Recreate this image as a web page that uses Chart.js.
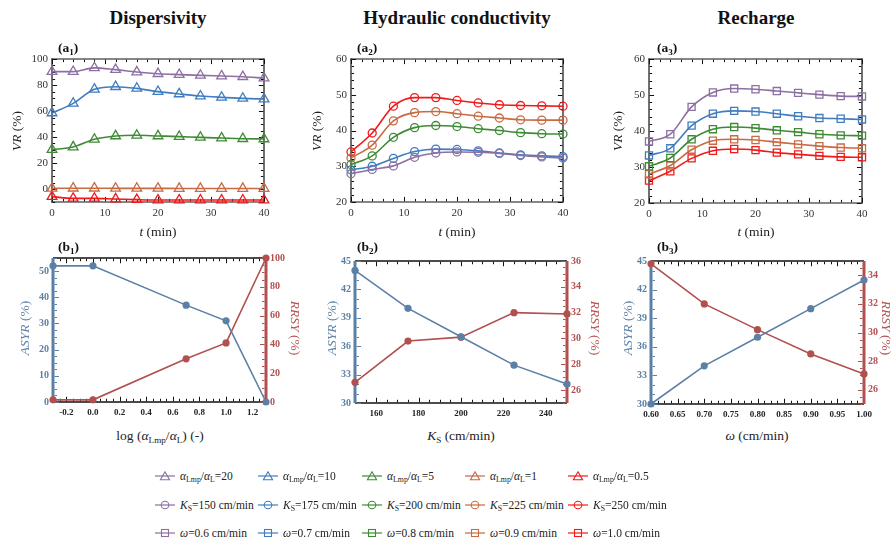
<!DOCTYPE html>
<html><head><meta charset="utf-8">
<script src="https://cdn.jsdelivr.net/npm/chart.js@4/dist/chart.umd.min.js"></script>
<style>
html,body{margin:0;padding:0;background:#fff;}
body{width:892px;height:540px;position:relative;overflow:hidden;font-family:"Liberation Serif","Times New Roman",serif;color:#222;}
canvas{position:absolute;}
.tx{position:absolute;width:300px;height:20px;line-height:20px;text-align:center;white-space:nowrap;z-index:5;}
.tx sub{font-size:0.68em;vertical-align:-0.3em;line-height:0;}
.leg{position:absolute;height:16px;line-height:16px;white-space:nowrap;font-size:11.5px;z-index:5;}
.leg svg{position:absolute;left:0;top:2px;}
.leg span{position:absolute;top:0;}
.leg sub{font-size:0.68em;vertical-align:-0.3em;line-height:0;}
</style></head>
<body>
<canvas id="a1"></canvas><canvas id="a2"></canvas><canvas id="a3"></canvas>
<canvas id="b1"></canvas><canvas id="b2"></canvas><canvas id="b3"></canvas>
<div id="texts"></div>
<script>
// ---------------- DATA ----------------
const timeMin = [0,4,8,12,16,20,24,28,32,36,40];
const dispLabels = ['20','10','5','1','0.5'];
const ksLabels = ['150','175','200','225','250'];
const omegaLabels = ['0.6','0.7','0.8','0.9','1.0'];

// (a1) Dispersivity VR (%)
const vrDisp20 = [90.3,90.3,93.2,91.8,90.0,88.7,88.0,87.4,86.9,86.4,85.3];
const vrDisp10 = [58.5,65.9,76.7,78.7,77.4,74.9,73.1,71.5,70.5,69.7,69.2];
const vrDisp5  = [30.3,32.3,38.2,40.8,41.3,40.8,40.3,39.7,39.2,38.7,38.5];
const vrDisp1  = [0.5,0.6,0.6,0.5,0.5,0.5,0.4,0.4,0.4,0.4,0.4];
const vrDisp05 = [-5.9,-7.2,-7.2,-7.7,-8.2,-8.5,-8.5,-8.5,-8.5,-8.5,-8.5];

// (a2) Hydraulic conductivity VR (%)
const vrKs150 = [27.9,29.1,30.1,32.5,33.7,34.0,33.9,33.6,33.0,32.6,32.3];
const vrKs175 = [29.0,30.0,32.2,34.1,34.8,34.7,34.3,33.7,33.2,32.9,32.7];
const vrKs200 = [30.5,32.9,38.1,40.8,41.4,41.1,40.5,40.0,39.4,39.1,39.0];
const vrKs225 = [32.3,35.9,42.7,45.0,45.3,44.7,44.0,43.5,43.0,42.9,42.9];
const vrKs250 = [34.0,39.3,46.8,49.2,49.2,48.4,47.7,47.2,47.0,46.9,46.8];

// (a3) Recharge VR (%)
const vrOm06 = [37.1,39.1,46.7,50.7,51.8,51.6,51.1,50.6,50.1,49.7,49.6];
const vrOm07 = [33.2,35.2,41.5,44.8,45.6,45.4,44.8,44.1,43.6,43.4,43.2];
const vrOm08 = [30.2,32.5,37.7,40.5,41.1,40.8,40.2,39.7,39.1,38.8,38.7];
const vrOm09 = [28.0,30.4,34.8,37.3,37.7,37.5,36.9,36.3,35.8,35.4,35.2];
const vrOm10 = [26.2,28.8,32.4,34.5,35.0,34.7,34.0,33.5,33.1,32.8,32.7];

// (b1)
const logRatio = [-0.3,0,0.7,1.0,1.3];
const asyrDisp = [52,52,37,31,0];
const rrsyDisp = [1.5,1.5,30,41,100];
// (b2)
const ksValues = [150,175,200,225,250];
const asyrKs = [44,40,37,34,32];
const rrsyKs = [26.6,29.8,30.1,32.0,31.9];
// (b3)
const omegaValues = [0.6,0.7,0.8,0.9,1.0];
const asyrOmega = [30,34,37,40,43];
const rrsyOmega = [34.8,32.0,30.2,28.5,27.1];

// tick values
const aXTicks = [0,10,20,30,40];
const a1YTicks = [0,20,40,60,80,100];
const a23YTicks = [20,30,40,50,60];
const b1XTicks = [-0.2,0,0.2,0.4,0.6,0.8,1.0,1.2];
const b1LTicks = [0,10,20,30,40,50];
const b1RTicks = [0,20,40,60,80,100];
const b2XTicks = [160,180,200,220,240];
const b23LTicks = [30,33,36,39,42,45];
const b2RTicks = [26,28,30,32,34,36];
const b3XTicks = [0.60,0.65,0.70,0.75,0.80,0.85,0.90,0.95,1.00];
const b3RTicks = [26,28,30,32,34];

// ---------------- STYLE ----------------
const COLS = ['#8c6fa3','#3f7cc0','#3f8a36','#c86a42','#f01a1a'];
const C_ASYR = '#5b80a6', C_RRSY = '#b24f4f';
const TICKFONT = {family:'"Liberation Serif", serif', size:11};
const BFONT = {family:'"Liberation Serif", serif', size:10, weight:'bold'};
const BXFONT = {family:'"Liberation Serif", serif', size:9, weight:'bold'};

const framePlugin = {
  id:'frame',
  beforeDatasetsDraw(chart, args, opts){
    const {ctx, chartArea:{left,right,top,bottom}} = chart;
    ctx.save();
    for (const s of (opts.sides||[])) {
      const sc = chart.scales[s.scale];
      ctx.strokeStyle = s.color; ctx.lineWidth = s.width;
      ctx.beginPath();
      if (s.pos==='bottom'){ctx.moveTo(left-s.ext,bottom);ctx.lineTo(right+s.ext,bottom);}
      if (s.pos==='top'){ctx.moveTo(left-s.ext,top);ctx.lineTo(right+s.ext,top);}
      if (s.pos==='left'){ctx.moveTo(left,top-s.ext);ctx.lineTo(left,bottom+s.ext);}
      if (s.pos==='right'){ctx.moveTo(right,top-s.ext);ctx.lineTo(right,bottom+s.ext);}
      ctx.stroke();
      ctx.lineWidth = s.tw || 1; ctx.strokeStyle = s.tc || s.color;
      const majors = s.majors, ms = s.minor;
      const n0 = Math.ceil(sc.min/ms - 1e-6), n1 = Math.floor(sc.max/ms + 1e-6);
      const off = (s.width/2);
      for (let n=n0;n<=n1;n++){
        const v = n*ms;
        const isMaj = majors.some(t=>Math.abs(t-v)<ms*1e-3);
        const L = isMaj ? 4.5 : 2.5;
        const p = Math.round(sc.getPixelForValue(v))+0.5;
        ctx.beginPath();
        if (s.pos==='bottom'){ctx.moveTo(p,bottom-off);ctx.lineTo(p,bottom-off-L);}
        if (s.pos==='top'){ctx.moveTo(p,top+off);ctx.lineTo(p,top+off+L);}
        if (s.pos==='left'){ctx.moveTo(left+off,p);ctx.lineTo(left+off+L,p);}
        if (s.pos==='right'){ctx.moveTo(right-off,p);ctx.lineTo(right-off-L,p);}
        ctx.stroke();
      }
    }
    ctx.restore();
  }
};
Chart.register(framePlugin);

function scale(min,max,ticks,fit,font,color,fmt,pad,extra){
  return Object.assign({type:'linear',min,max,
    afterBuildTicks:s=>{s.ticks = ticks.map(v=>({value:v}));},
    afterFit:fit,
    grid:{display:false,drawTicks:false}, border:{display:false},
    ticks:{font,color,padding:pad,autoSkip:false,maxRotation:0,callback:fmt||(v=>String(v))}},extra||{});
}
function place(id, area, m){
  const c = document.getElementById(id);
  c.width = area.r-area.l+m.l+m.r; c.height = area.b-area.t+m.t+m.b;
  c.style.left=(area.l-m.l)+'px'; c.style.top=(area.t-m.t)+'px';
  return c;
}
function lineDs(label, xs, ys, color, style, radius){
  return {label, data: xs.map((x,i)=>({x,y:ys[i]})), borderColor:color, backgroundColor:'rgba(0,0,0,0)',
    pointStyle:style, pointRadius:radius, pointBorderWidth:1.3, pointBorderColor:color,
    pointBackgroundColor:'rgba(255,255,255,0)', borderWidth:1.6, cubicInterpolationMode:'monotone', clip:false};
}
function aSides(yt, ymin){
  const base = {color:'#111', width:1.2, tc:'#111', tw:1, ext:0.6};
  return [
    Object.assign({pos:'bottom',scale:'x',majors:aXTicks,minor:2},base),
    Object.assign({pos:'top',scale:'x',majors:aXTicks,minor:2},base),
    Object.assign({pos:'left',scale:'y',majors:yt,minor:ymin},base),
    Object.assign({pos:'right',scale:'y',majors:yt,minor:ymin},base)];
}
function aChart(id, area, yMin, yMax, yTicks, yMinor, series, style, radius){
  const m = {l:45,t:12,r:22,b:22};
  const c = place(id, area, m);
  return new Chart(c, {type:'line',
    data:{datasets: series.map((s,i)=>lineDs('s'+i, timeMin, s, COLS[i], style, radius))},
    options:{responsive:false, animation:false, layout:{padding:{top:m.t,right:m.r,left:0,bottom:0}},
      plugins:{legend:{display:false},tooltip:{enabled:false},frame:{sides:aSides(yTicks,yMinor)}},
      scales:{x:scale(0,40,aXTicks,s=>{s.height=m.b;},TICKFONT,'#333',null,5,{position:'bottom'}),
              y:scale(yMin,yMax,yTicks,s=>{s.width=m.l;},TICKFONT,'#333',null,4,{position:'left'})}}});
}
aChart('a1',{l:52,t:59,r:264,b:202},-10,100,a1YTicks,5,[vrDisp20,vrDisp10,vrDisp5,vrDisp1,vrDisp05],'triangle',5.6);
aChart('a2',{l:351,t:59,r:563,b:202},20,60,a23YTicks,2,[vrKs150,vrKs175,vrKs200,vrKs225,vrKs250],'circle',4);
aChart('a3',{l:649,t:59,r:862,b:203},20,60,a23YTicks,2,[vrOm06,vrOm07,vrOm08,vrOm09,vrOm10],'rect',5);

function bChart(id, area, xs, asyr, rrsy, xr, xt, xminor, xfmt, lr, lt, lminor, rr, rt, rminor){
  const m = {l:40,t:10,r:26,b:20};
  const c = place(id, area, m);
  const ds = (ys,color,axis)=>({data:xs.map((x,i)=>({x,y:ys[i]})), yAxisID:axis, borderColor:color, backgroundColor:color,
      pointRadius:3.6, pointBorderWidth:0, pointBackgroundColor:color, borderWidth:1.6, tension:0, clip:false});
  return new Chart(c, {type:'line',
    data:{datasets:[ds(asyr,C_ASYR,'y'), ds(rrsy,C_RRSY,'y2')]},
    options:{responsive:false, animation:false, layout:{padding:{top:m.t,right:0,left:0,bottom:0}},
      plugins:{legend:{display:false},tooltip:{enabled:false},frame:{sides:[
        {pos:'top',scale:'x',majors:xt,minor:xminor,color:'#111',width:1.5,tc:'#111',tw:1,ext:0},
        {pos:'bottom',scale:'x',majors:xt,minor:xminor,color:'#111',width:1.5,tc:'#111',tw:1,ext:0},
        {pos:'left',scale:'y',majors:lt,minor:lminor,color:C_ASYR,width:3,tc:C_ASYR,tw:1,ext:0},
        {pos:'right',scale:'y2',majors:rt,minor:rminor,color:C_RRSY,width:3,tc:C_RRSY,tw:1,ext:0}]}},
      scales:{x:scale(xr[0],xr[1],xt,s=>{s.height=m.b;},BXFONT,'#222',xfmt,5,{position:'bottom'}),
              y:scale(lr[0],lr[1],lt,s=>{s.width=m.l;},BFONT,C_ASYR,null,4,{position:'left'}),
              y2:scale(rr[0],rr[1],rt,s=>{s.width=m.r;},BFONT,C_RRSY,null,4,{position:'right'})}}});
}
bChart('b1',{l:53,t:258,r:266,b:402},logRatio,asyrDisp,rrsyDisp,[-0.3,1.3],b1XTicks,0.05,v=>v.toFixed(1),
  [0,55],b1LTicks,2.5,[0,100],b1RTicks,5);
bChart('b2',{l:355,t:261,r:567,b:403},ksValues,asyrKs,rrsyKs,[150,250],b2XTicks,5,null,
  [30,45],b23LTicks,1,[25,36],b2RTicks,0.5);
bChart('b3',{l:651,t:261,r:864,b:404},omegaValues,asyrOmega,rrsyOmega,[0.6,1.0],b3XTicks,0.0125,v=>v.toFixed(2),
  [30,45],b23LTicks,1,[25,35],b3RTicks,0.5);

// ---------------- TEXT ----------------
const T = document.getElementById('texts');
function txt(html, cx, cy, css, rot){
  const d = document.createElement('div'); d.className='tx';
  d.style.left=(cx-150)+'px'; d.style.top=(cy-10)+'px';
  d.innerHTML = html; if (css) d.style.cssText += css;
  if (rot) d.style.transform='rotate('+rot+'deg)';
  T.appendChild(d);
}
const titleCss='font-weight:bold;font-size:19px;color:#111;';
txt('Dispersivity',158,18,titleCss);
txt('Hydraulic conductivity',457,18,titleCss);
txt('Recharge',756,18,titleCss);
const plCss='font-weight:bold;font-size:13.5px;color:#111;text-align:left;';
function plab(h,x,y){ const d=document.createElement('div'); d.className='tx'; d.style.cssText+=plCss; d.style.left=x+'px'; d.style.top=(y-10)+'px'; d.innerHTML=h; T.appendChild(d);}
plab('(a<sub>1</sub>)',58,48); plab('(a<sub>2</sub>)',357,48); plab('(a<sub>3</sub>)',657,48);
plab('(b<sub>1</sub>)',58,247); plab('(b<sub>2</sub>)',357,247); plab('(b<sub>3</sub>)',657,247);
const axCss='font-size:13.5px;color:#222;';
txt('<i>t</i> (min)',158,232,axCss); txt('<i>t</i> (min)',457,232,axCss); txt('<i>t</i> (min)',756,232,axCss);
txt('<i>VR</i> (%)',17,131,axCss,-90); txt('<i>VR</i> (%)',317,131,axCss,-90); txt('<i>VR</i> (%)',618,131,axCss,-90);
txt('log (<i>α</i><sub>Lmp</sub>/<i>α</i><sub>L</sub>) (-)',160,436,axCss);
txt('<i>K</i><sub>S</sub> (cm/min)',461,436,axCss);
txt('<i>ω</i> (cm/min)',757,436,axCss);
const asCss='font-size:13.5px;color:'+C_ASYR+';', rrCss='font-size:13.5px;color:'+C_RRSY+';';
txt('<i>ASYR</i> (%)',25,328,asCss,-90); txt('<i>ASYR</i> (%)',332,328,asCss,-90); txt('<i>ASYR</i> (%)',628,328,asCss,-90);
txt('<i>RRSY</i> (%)',295,328,rrCss,90); txt('<i>RRSY</i> (%)',595,328,rrCss,90); txt('<i>RRSY</i> (%)',886,328,rrCss,90);

// ---------------- LEGEND ----------------
const colX = [155,258,362,465,568];
const rowY = [476,505,533];
function marker(shape,color){
  let s='';
  if (shape==='tri') s='<polygon points="10,1.8 14.6,9.8 5.4,9.8" fill="none" stroke="'+color+'" stroke-width="1.1"/>';
  if (shape==='cir') s='<circle cx="10" cy="6" r="3.8" fill="none" stroke="'+color+'" stroke-width="1.1"/>';
  if (shape==='sq') s='<rect x="6.5" y="2.5" width="7" height="7" fill="none" stroke="'+color+'" stroke-width="1.1"/>';
  return '<svg width="20" height="12"><line x1="0" y1="6" x2="20" y2="6" stroke="'+color+'" stroke-width="1.2"/>'+s+'</svg>';
}
const rows = [
  {shape:'tri', labels:dispLabels.map(v=>'<i>α</i><sub>Lmp</sub>/<i>α</i><sub>L</sub>='+v)},
  {shape:'cir', labels:ksLabels.map(v=>'<i>K</i><sub>S</sub>='+v+' cm/min')},
  {shape:'sq', labels:omegaLabels.map(v=>'<i>ω</i>='+v+' cm/min')}];
rows.forEach((r,ri)=>r.labels.forEach((lab,ci)=>{
  const d=document.createElement('div'); d.className='leg';
  d.style.left=colX[ci]+'px'; d.style.top=(rowY[ri]-8)+'px';
  d.innerHTML = marker(r.shape,COLS[ci])+'<span style="left:25px">'+lab+'</span>';
  T.appendChild(d);
}));
</script>
</body></html>
